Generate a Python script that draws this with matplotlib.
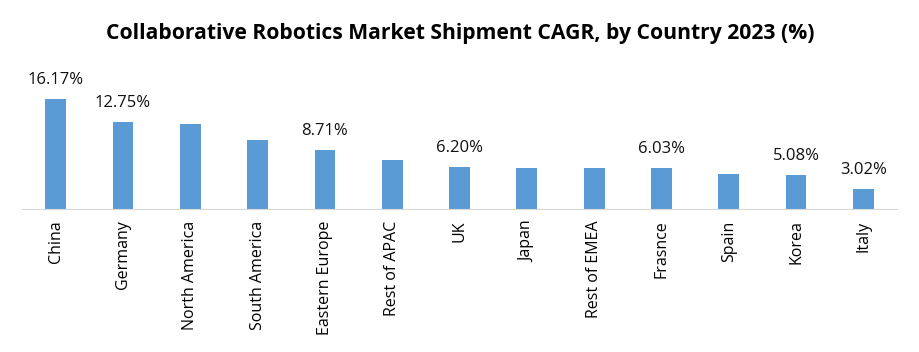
import matplotlib
matplotlib.use("Agg")
from matplotlib import pyplot as plt

countries = ["China", "Germany", "North America", "South America", "Eastern Europe",
             "Rest of APAC", "UK", "Japan", "Rest of EMEA", "Frasnce", "Spain", "Korea", "Italy"]
cagr = [16.17, 12.75, 12.5, 10.15, 8.71, 7.23, 6.20, 6.07, 6.05, 6.03, 5.2, 5.08, 3.02]
# only some bars carry a label in the original
labels = ["16.17%", "12.75%", "", "", "8.71%", "", "6.20%", "", "", "6.03%", "", "5.08%", "3.02%"]

plt.rcParams['font.family'] = ['Open Sans', 'DejaVu Sans']

fig = plt.figure(figsize=(9.2, 3.52), dpi=100)
ax = fig.add_axes([0.024, 0.405, 0.951, 0.425])

x = range(len(countries))
ax.bar(x, cagr, width=0.31, color="#5B9BD5")
for i, (v, lab) in enumerate(zip(cagr, labels)):
    if lab:
        ax.annotate(lab, (i, v), xytext=(0, 8), textcoords="offset points",
                    ha="center", va="bottom", fontsize=12, color="#111111")

ax.set_xlim(-0.5, len(countries) - 0.5)
ax.set_ylim(0, 21.9)
ax.set_yticks([])
ax.set_xticks(list(x))
ax.set_xticklabels(countries, rotation=90, fontsize=11.5, va="top")
ax.tick_params(axis="x", length=0, pad=8)
for s in ["top", "right", "left"]:
    ax.spines[s].set_visible(False)
ax.spines["bottom"].set_color("#D9D9D9")

fig.suptitle("Collaborative Robotics Market Shipment CAGR, by Country 2023 (%)",
             x=0.5, y=0.935, fontsize=15.2, fontweight="bold")

fig.savefig("out.png", dpi=100)
